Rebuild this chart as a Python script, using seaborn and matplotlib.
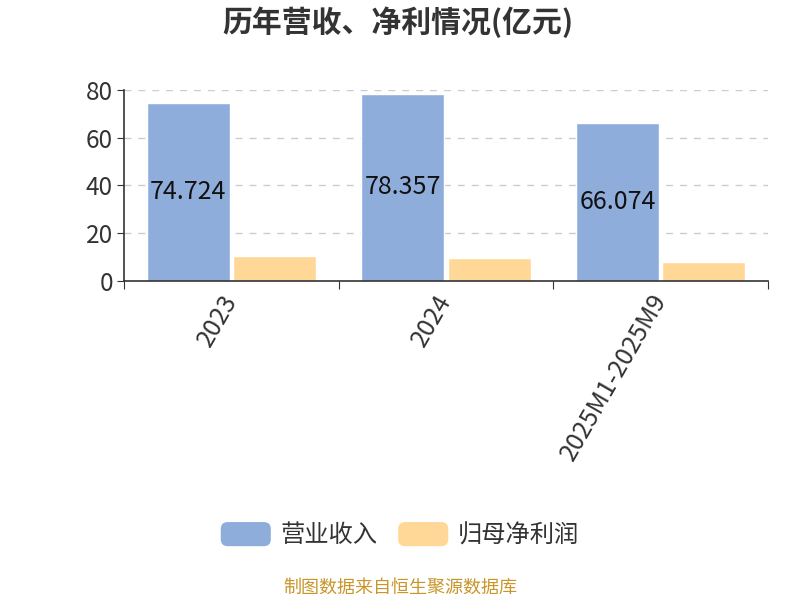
import pandas as pd
import matplotlib.pyplot as plt
import matplotlib.patches as mpatches
from matplotlib.legend_handler import HandlerPatch
import seaborn as sns

# === 数据 ===
periods = ["2023", "2024", "2025M1-2025M9"]
revenue = [74.724, 78.357, 66.074]
net_profit = [10.4, 9.6, 7.8]
series_names = ["营业收入", "归母净利润"]
colors = ["#8FADDB", "#FFD898"]

df = pd.DataFrame({
    "period": periods * 2,
    "value": revenue + net_profit,
    "series": [series_names[0]] * 3 + [series_names[1]] * 3,
})

sns.set_style("white")
plt.rcParams["font.family"] = ["Noto Sans CJK SC", "DejaVu Sans"]

fig = plt.figure(figsize=(8, 6), dpi=100)
ax = fig.add_axes([0.155, 0.532, 0.805, 0.318])

sns.barplot(data=df, x="period", y="value", hue="series", palette=colors,
            width=0.805, gap=0.04, legend=False, ax=ax, saturation=1)

# 数值标签(只在营收柱上)
for bar, v in zip(ax.containers[0], revenue):
    ax.text(bar.get_x() + bar.get_width() / 2, v / 2, f"{v:.3f}",
            ha="center", va="center", fontsize=18, color="#111111")

ax.set_ylim(0, 80)
ax.set_xlim(-0.5, 2.5)
ax.set_yticks([0, 20, 40, 60, 80])
ax.tick_params(axis="y", labelsize=17.5, labelcolor="#333333", length=5,
               direction="out", color="#333333", left=True, pad=3)
for y in [20, 40, 60, 80]:
    ax.axhline(y, color="#cccccc", linestyle=(0, (5, 5)), linewidth=1, zorder=0)

# x 轴: 刻度在组边界, 标签在组中心
ax.set_xticks([-0.5, 0.5, 1.5, 2.5])
ax.set_xticklabels([])
ax.set_xticks([0, 1, 2], minor=True)
ax.set_xticklabels(periods, minor=True, rotation=60, ha="right", va="center",
                   rotation_mode="anchor", fontsize=18, color="#333333")
ax.tick_params(axis="x", which="major", length=6, color="#333333",
               direction="out", bottom=True)
ax.tick_params(axis="x", which="minor", length=0, pad=11)

ax.set_xlabel("")
ax.set_ylabel("")
for s in ["top", "right"]:
    ax.spines[s].set_visible(False)
for s in ["left", "bottom"]:
    ax.spines[s].set_color("#333333")
    ax.spines[s].set_linewidth(1.2)

fig.text(0.4975, 0.963, "历年营收、净利情况(亿元)", ha="center", va="center",
         fontsize=21.5, fontweight="bold", color="#333333")


class RoundHandler(HandlerPatch):
    def create_artists(self, legend, orig_handle, xdescent, ydescent,
                       width, height, fontsize, trans):
        p = mpatches.FancyBboxPatch((-xdescent, -ydescent), width, height,
                                    boxstyle="round,pad=0,rounding_size=5",
                                    facecolor=orig_handle.get_facecolor(),
                                    edgecolor="none", transform=trans)
        return [p]


handles = [mpatches.Patch(facecolor=c, edgecolor="none") for c in colors]
fig.legend(handles=handles, labels=series_names, loc="center",
           bbox_to_anchor=(0.5, 0.108), ncol=2, frameon=False, fontsize=17.5,
           handlelength=2.06, handleheight=1.15, handletextpad=0.4,
           columnspacing=0.85, labelcolor="#333333",
           handler_map={mpatches.Patch: RoundHandler()})

fig.text(0.5, 0.02, "制图数据来自恒生聚源数据库", ha="center", va="center",
         fontsize=13, color="#C8962A")

fig.savefig("out.png", dpi=100)
